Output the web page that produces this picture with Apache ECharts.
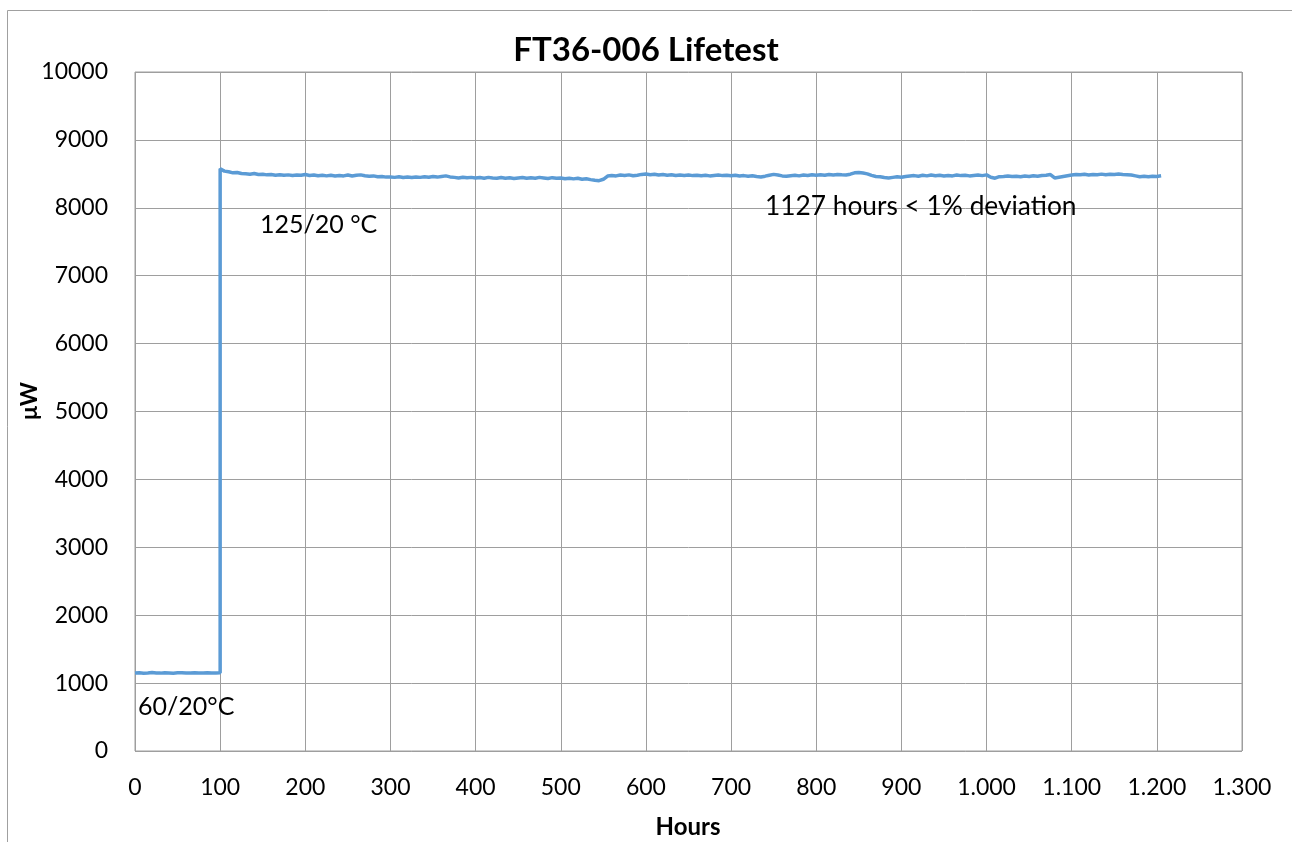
<!DOCTYPE html>
<html>
<head>
<meta charset="utf-8">
<script src="https://cdn.jsdelivr.net/npm/echarts@6/dist/echarts.min.js"></script>
<style>html,body{margin:0;padding:0;background:#fff;}#c{width:1292px;height:842px;}</style>
</head>
<body>
<div id="c"></div>
<script>
// ---- data ----
const titleText = 'FT36-006 Lifetest';
const xName = 'Hours';
const yName = 'μW';
const xTicks = [0,100,200,300,400,500,600,700,800,900,1000,1100,1200,1300];
const yTicks = [0,1000,2000,3000,4000,5000,6000,7000,8000,9000,10000];

// segment 1: 60/20°C, hours 0..100 every 5 h
const seg1Start = 0, seg1Step = 5;
const seg1Values = [1148,1152,1146,1150,1155,1149,1147,1153,1150,1146,1151,1154,1148,1150,1152,1147,1149,1153,1150,1148,1151];

// segment 2: 125/20 °C, hours 100..1080 every 5 h
const seg2Start = 100, seg2Step = 5;
const seg2Values = [
8575,8540,8530,8515,8520,8505,8500,8495,8505,8490,8495,8485,8490,8480,8488,8478,8485,8475,8482,8478,
8490,8476,8484,8472,8480,8470,8478,8468,8475,8470,8482,8468,8478,8485,8472,8465,8470,8458,8462,8452,
8455,8448,8456,8445,8452,8446,8455,8448,8458,8450,8460,8452,8462,8470,8455,8448,8440,8450,8442,8448,
8438,8446,8436,8448,8440,8436,8445,8435,8442,8432,8440,8446,8434,8442,8436,8448,8440,8432,8444,8436,
8440,8428,8436,8426,8434,8420,8428,8415,8405,8400,8420,8468,8475,8470,8482,8476,8485,8472,8480,8492,
8498,8488,8494,8482,8490,8480,8486,8475,8484,8476,8482,8474,8480,8472,8478,8470,8476,8482,8474,8480,
8472,8478,8468,8474,8466,8472,8462,8455,8466,8480,8492,8482,8470,8465,8472,8478,8470,8482,8476,8486,
8480,8488,8478,8490,8484,8492,8486,8482,8495,8515,8520,8512,8500,8478,8462,8456,8445,8440,8448,8456,
8450,8462,8468,8474,8466,8478,8470,8482,8472,8478,8468,8476,8470,8482,8474,8478,8470,8476,8482,8474,
8485,8450,8436,8458,8462,8468,8460,8466,8458,8468,8462,8472,8466,8476,8480,8490,8440
];

// segment 3: after data gap, hours 1100..1205 every 5 h
const seg3Start = 1100, seg3Step = 5;
const seg3Values = [8482,8490,8486,8494,8484,8492,8488,8496,8486,8494,8490,8498,8492,8488,8482,8470,8458,8464,8456,8466,8462,8472];

const annotations = [
  {text: '125/20 °C', x: 260, y: 225, size: 25},
  {text: '1127 hours < 1% deviation', x: 765, y: 207, size: 26.3},
  {text: '60/20°C', x: 138, y: 707, size: 25}
];

// ---- build ----
function seg(start, step, vals){ return vals.map((v,i)=>[start+i*step, v]); }
const lineData = [].concat(seg(seg1Start,seg1Step,seg1Values), seg(seg2Start,seg2Step,seg2Values), seg(seg3Start,seg3Step,seg3Values));

function fmtX(v){
  if (v >= 1000) return Math.floor(v/1000) + '.' + String(v%1000).padStart(3,'0');
  return String(v);
}

const FONT = 'Lato';
const chart = echarts.init(document.getElementById('c'), null, {renderer:'canvas'});
chart.setOption({
  backgroundColor: '#ffffff',
  animation: false,
  title: {
    text: titleText, left: 'center', top: 29,
    textStyle: {fontFamily: FONT, fontWeight: 'bold', fontSize: 33, color: '#000'}
  },
  grid: {left: 135, right: 50, top: 72, bottom: 91, containLabel: false, show: true, borderColor: '#9e9e9e', borderWidth: 1},
  xAxis: {
    type: 'value', min: 0, max: 1300, interval: 100,
    axisLine: {show: false}, axisTick: {show: false},
    splitLine: {show: true, lineStyle: {color: '#9e9e9e', width: 1}},
    axisLabel: {fontFamily: FONT, fontSize: 23, color: '#000', margin: 25, formatter: fmtX}
  },
  yAxis: {
    type: 'value', min: 0, max: 10000, interval: 1000,
    axisLine: {show: false}, axisTick: {show: false},
    splitLine: {show: true, lineStyle: {color: '#9e9e9e', width: 1}},
    axisLabel: {fontFamily: FONT, fontSize: 23, color: '#000', margin: 27, formatter: v => String(v)}
  },
  series: [{
    type: 'line', data: lineData, showSymbol: false, symbol: 'none',
    lineStyle: {color: '#5b9bd5', width: 3.5}, z: 5
  }],
  graphic: [
    {type: 'rect', left: 5, top: 8, shape: {width: 1285, height: 900}, style: {fill: 'none', stroke: '#a0a0a0', lineWidth: 1}, z: -1, silent: true},
    {type: 'text', x: 30, y: 401, rotation: Math.PI/2, style: {text: yName, fontFamily: FONT, fontWeight: 'bold', fontSize: 23, fill: '#000', textAlign: 'center', textVerticalAlign: 'middle'}},
    {type: 'text', x: 688, y: 827, style: {text: xName, fontFamily: FONT, fontWeight: 'bold', fontSize: 24, fill: '#000', textAlign: 'center', textVerticalAlign: 'middle'}}
  ].concat(annotations.map(a => ({
    type: 'text', x: a.x, y: a.y, z: 10,
    style: {text: a.text, fontFamily: FONT, fontSize: a.size, fill: '#000', textAlign: 'left', textVerticalAlign: 'middle'}
  })))
});
</script>
</body>
</html>
